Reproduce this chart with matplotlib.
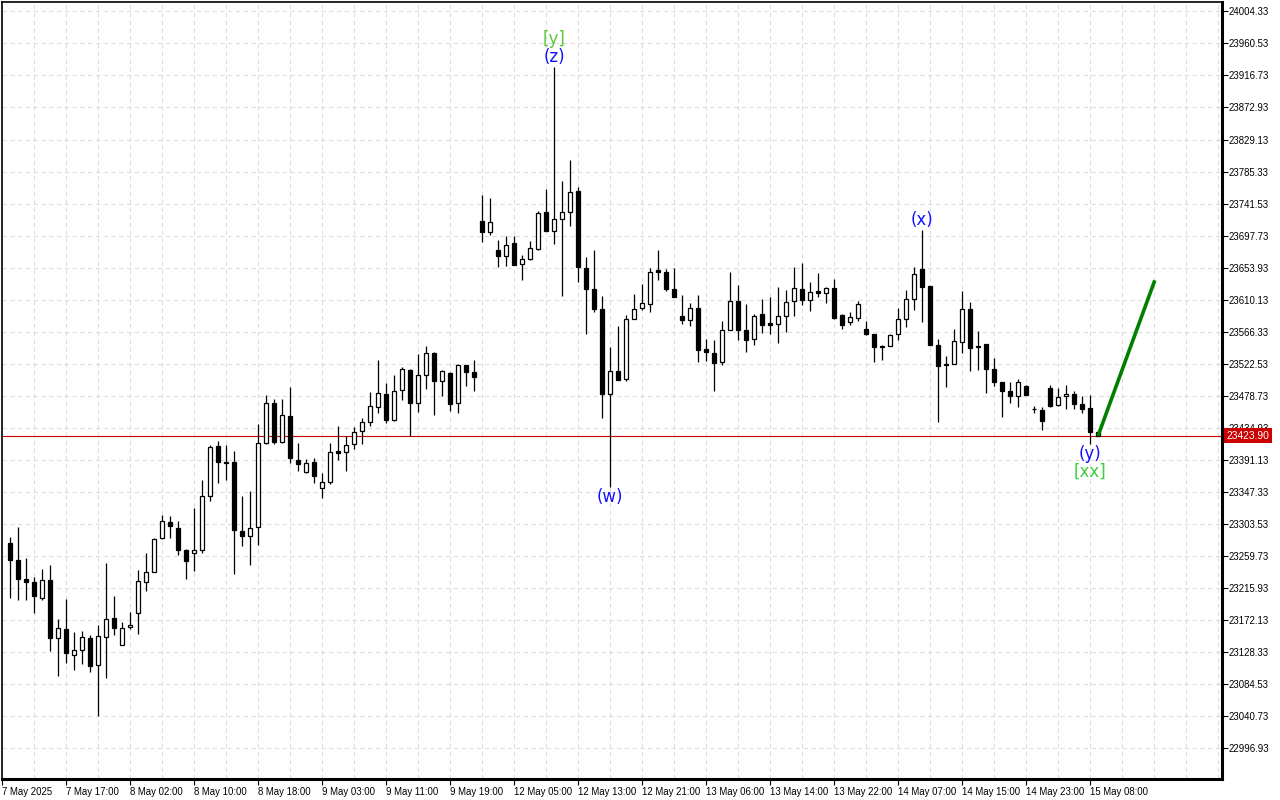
import numpy as np
import matplotlib.pyplot as plt
from matplotlib.transforms import blended_transform_factory

# hourly bars, index 1..137 (bar 0 sits on the left frame)
opens = [23277.5, 23254.3, 23228.3, 23224.5, 23201.7, 23227.3, 23147.5, 23160.2, 23124.2, 23131.1,
         23148.0, 23110.5, 23148.9, 23174.9, 23137.9, 23162.6, 23181.7, 23224.5, 23237.8, 23284.4,
         23306.7, 23298.1, 23268.4, 23263.7, 23267.4, 23341.9, 23410.0, 23388.1, 23388.8, 23294.0,
         23287.1, 23299.4, 23414.4, 23469.2, 23416.2, 23451.4, 23390.4, 23374.7, 23387.7, 23352.8,
         23361.0, 23403.9, 23402.5, 23413.0, 23430.8, 23443.6, 23464.1, 23481.5, 23445.9, 23486.9,
         23514.3, 23469.2, 23507.5, 23536.6, 23499.2, 23510.2, 23469.2, 23520.2, 23511.6, 23717.3,
         23703.2, 23678.6, 23670.4, 23687.5, 23659.4, 23665.8, 23680.0, 23730.6, 23704.1, 23720.5,
         23730.0, 23759.3, 23654.0, 23624.2, 23597.8, 23481.5, 23513.0, 23501.5, 23584.1, 23598.9,
         23604.7, 23650.2, 23648.5, 23625.2, 23588.2, 23582.2, 23599.2, 23542.1, 23537.6, 23524.7,
         23569.1, 23607.8, 23569.1, 23556.2, 23590.0, 23577.7, 23577.3, 23588.2, 23608.8, 23625.2,
         23610.1, 23622.5, 23619.7, 23626.6, 23589.6, 23580.0, 23585.5, 23569.5, 23563.6, 23547.2,
         23547.2, 23563.6, 23583.2, 23611.5, 23652.6, 23629.3, 23548.5, 23522.0, 23522.5, 23552.6,
         23597.8, 23547.2, 23548.9, 23515.7, 23497.9, 23486.0, 23478.9, 23492.6, 23460.4, 23460.0,
         23489.7, 23466.4, 23478.7, 23481.5, 23468.2, 23461.4, 23429.4]
highs = [23286.2, 23299.8, 23257.0, 23231.4, 23242.4, 23247.8, 23173.9, 23201.3, 23156.1, 23157.5,
         23152.0, 23165.7, 23250.6, 23205.4, 23169.8, 23183.5, 23241.0, 23263.3, 23284.8, 23316.3,
         23313.9, 23308.1, 23269.3, 23324.9, 23364.2, 23412.1, 23417.6, 23412.1, 23403.9, 23342.3,
         23349.1, 23440.8, 23480.5, 23473.7, 23473.7, 23490.5, 23413.8, 23391.8, 23393.6, 23372.8,
         23413.8, 23438.1, 23424.4, 23435.8, 23448.6, 23484.2, 23528.0, 23495.6, 23507.5, 23518.8,
         23515.7, 23536.2, 23546.2, 23538.4, 23513.8, 23511.0, 23522.5, 23521.2, 23527.1, 23752.9,
         23748.8, 23692.4, 23697.7, 23696.7, 23671.0, 23691.0, 23731.0, 23761.1, 23927.7, 23772.0,
         23800.8, 23763.8, 23668.0, 23677.6, 23614.6, 23544.8, 23574.0, 23589.6, 23617.4, 23632.0,
         23654.0, 23677.6, 23652.0, 23653.0, 23616.0, 23605.1, 23616.0, 23555.8, 23554.4, 23580.4,
         23647.5, 23630.1, 23603.7, 23590.0, 23611.5, 23613.3, 23627.0, 23622.9, 23654.3, 23659.8,
         23633.8, 23646.1, 23627.4, 23638.0, 23591.0, 23592.7, 23607.8, 23580.4, 23563.6, 23548.5,
         23563.6, 23598.2, 23622.9, 23654.3, 23705.9, 23629.3, 23555.8, 23532.9, 23569.5, 23621.5,
         23606.8, 23566.7, 23548.9, 23529.8, 23497.9, 23497.3, 23501.7, 23493.5, 23464.5, 23463.1,
         23494.2, 23489.7, 23493.2, 23485.1, 23478.2, 23480.1, 23429.8]
lows = [23201.7, 23199.9, 23199.9, 23182.5, 23199.5, 23130.1, 23096.3, 23114.1, 23104.5, 23112.7,
        23101.8, 23041.2, 23093.6, 23152.4, 23137.9, 23159.8, 23153.8, 23211.3, 23237.8, 23282.5,
        23284.4, 23261.1, 23227.7, 23239.2, 23263.3, 23334.5, 23359.1, 23364.2, 23235.6, 23272.9,
        23247.4, 23274.2, 23413.0, 23413.0, 23413.8, 23387.1, 23376.5, 23373.4, 23359.1, 23338.6,
        23357.7, 23390.4, 23375.5, 23405.7, 23413.0, 23437.1, 23454.9, 23441.2, 23444.0, 23472.7,
        23424.0, 23457.2, 23487.8, 23452.2, 23478.7, 23458.2, 23454.9, 23491.9, 23485.1, 23689.0,
        23699.1, 23654.8, 23656.2, 23657.6, 23637.0, 23664.1, 23677.6, 23704.1, 23686.8, 23615.1,
        23710.3, 23634.3, 23563.0, 23593.2, 23448.1, 23354.0, 23499.7, 23498.7, 23584.1, 23596.2,
        23593.7, 23637.0, 23621.9, 23614.2, 23576.7, 23574.0, 23524.7, 23526.1, 23485.1, 23521.2,
        23569.1, 23554.4, 23538.4, 23548.0, 23564.4, 23563.6, 23550.7, 23566.3, 23588.2, 23602.3,
        23594.5, 23613.7, 23606.0, 23583.2, 23569.9, 23575.4, 23580.8, 23561.7, 23524.7, 23528.0,
        23547.2, 23555.4, 23572.6, 23596.5, 23579.5, 23548.5, 23443.1, 23490.5, 23522.5, 23537.6,
        23513.0, 23513.8, 23482.8, 23491.9, 23449.4, 23468.9, 23463.1, 23479.6, 23455.5, 23431.6,
        23463.1, 23464.5, 23461.0, 23461.0, 23455.9, 23413.0, 23423.9]
closes = [23253.7, 23227.7, 23223.6, 23204.4, 23226.9, 23148.3, 23161.2, 23127.8, 23131.1, 23148.9,
          23110.0, 23150.2, 23173.5, 23161.2, 23161.2, 23165.3, 23225.5, 23238.3, 23283.0, 23307.6,
          23300.3, 23268.0, 23252.3, 23268.0, 23341.9, 23408.2, 23387.7, 23386.3, 23294.8, 23286.6,
          23298.5, 23414.4, 23469.2, 23416.2, 23452.8, 23394.3, 23384.9, 23387.1, 23369.3, 23361.0,
          23402.5, 23400.2, 23412.1, 23429.4, 23443.6, 23465.0, 23482.8, 23445.3, 23485.6, 23515.7,
          23469.2, 23507.5, 23537.6, 23498.7, 23512.0, 23467.2, 23520.6, 23511.0, 23504.7, 23702.7,
          23716.9, 23669.8, 23685.4, 23657.6, 23666.3, 23681.3, 23729.2, 23704.1, 23721.0, 23730.6,
          23757.9, 23654.8, 23624.6, 23597.3, 23481.5, 23513.0, 23501.0, 23584.1, 23597.8, 23606.0,
          23648.5, 23647.9, 23624.6, 23614.2, 23582.2, 23599.2, 23541.7, 23539.0, 23523.4, 23569.1,
          23608.8, 23568.5, 23554.8, 23588.2, 23575.4, 23575.4, 23588.2, 23607.4, 23626.6, 23609.6,
          23621.1, 23619.7, 23626.6, 23585.2, 23575.9, 23586.9, 23604.7, 23563.6, 23545.8, 23545.8,
          23562.2, 23583.2, 23610.5, 23645.7, 23627.9, 23548.5, 23519.8, 23520.6, 23554.0, 23597.8,
          23543.9, 23545.3, 23515.1, 23497.3, 23485.1, 23478.2, 23497.9, 23479.6, 23460.4, 23443.9,
          23464.5, 23477.4, 23481.5, 23467.2, 23461.0, 23428.9, 23423.9]

date_labels = ["7 May 2025", "7 May 17:00", "8 May 02:00", "8 May 10:00", "8 May 18:00",
               "9 May 03:00", "9 May 11:00", "9 May 19:00", "12 May 05:00", "12 May 13:00",
               "12 May 21:00", "13 May 06:00", "13 May 14:00", "13 May 22:00", "14 May 07:00",
               "14 May 15:00", "14 May 23:00", "15 May 08:00"]
price_labels = [24004.33 - 43.8 * i for i in range(24)]

# wave marks: (bar, text, colour, above/below)
wave_marks = [(69, "[y]", "#5cc83a", "high2"), (69, "(z)", "#1010ff", "high"),
              (76, "(w)", "#1010ff", "low"), (115, "(x)", "#1010ff", "high"),
              (136, "(y)", "#1010ff", "low"), (136, "[xx]", "#3fcc3f", "low2")]

# projected move
proj_bar = 144.1
proj_price = 23636.6


def main():
    plt.rcParams['font.family'] = ['Liberation Sans', 'DejaVu Sans']
    fig = plt.figure(figsize=(12.8, 8), dpi=100)
    ax = fig.add_axes([2 / 1280, 21 / 800, 1220 / 1280, 777 / 800])

    o = np.array(opens)
    h = np.array(highs)
    l = np.array(lows)
    c = np.array(closes)
    x = np.arange(1, len(o) + 1)
    up = c >= o

    ax.vlines(x, l, h, color="black", lw=0.9, zorder=3)
    body_lo = np.minimum(o, c)
    body_h = np.abs(c - o)
    ax.bar(x[up], body_h[up], bottom=body_lo[up], width=0.62,
           facecolor="white", edgecolor="black", lw=0.9, zorder=4)
    ax.bar(x[~up], body_h[~up], bottom=body_lo[~up], width=0.62,
           facecolor="black", edgecolor="black", lw=0.9, zorder=4)

    last = c[-1]
    ax.axhline(last, color="#cc0000", lw=0.8, zorder=2)

    # projection line
    ax.plot([x[-1], proj_bar], [last, proj_price], color="#008000", lw=2.6,
            solid_capstyle="butt", zorder=5)

    for bar, txt, col, where in wave_marks:
        i = bar - 1
        if where == "high":
            y, dy = h[i], 10
        elif where == "high2":
            y, dy = h[i], 28
        elif where == "low":
            y, dy = l[i], -10
        else:
            y, dy = l[i], -28
        ax.annotate(txt, (bar, y), xytext=(0, dy), textcoords="offset pixels",
                    ha="center", va="center", color=col, fontsize=12,
                    family="DejaVu Sans", zorder=6)

    ax.set_xlim(0, 152.5)
    ax.set_ylim(22954.9, 24017.1)

    ax.set_xticks(np.arange(0, 137, 8))
    ax.set_xticklabels(date_labels, fontsize=6.9, ha="left")
    ax.set_xticks(np.arange(4, 153, 4), minor=True)
    ax.tick_params(axis="x", which="major", length=4, width=0.8, pad=2)
    ax.tick_params(axis="x", which="minor", length=0)

    ax.yaxis.tick_right()
    ax.set_yticks(price_labels)
    ax.set_yticklabels([f"{p:.2f}" for p in price_labels], fontsize=6.9)
    ax.tick_params(axis="y", length=4, width=0.8, pad=1)

    ax.grid(True, which="both", color="#dddddd", linestyle=(0, (4, 3)), lw=0.8)
    ax.set_axisbelow(True)

    ax.spines["left"].set_linewidth(1.2)
    ax.spines["top"].set_linewidth(1.2)
    ax.spines["right"].set_linewidth(2.2)
    ax.spines["bottom"].set_linewidth(2.2)

    trans = blended_transform_factory(ax.transAxes, ax.transData)
    ax.text(1.0035, last, f"{last:.2f}", transform=trans, fontsize=7.4, color="white",
            va="center", ha="left", zorder=10, clip_on=False,
            bbox=dict(boxstyle="square,pad=0.25", facecolor="#cc0000", edgecolor="none"))

    fig.savefig("out.png", dpi=100, facecolor="white")
    plt.close(fig)


if __name__ == "__main__":
    main()
